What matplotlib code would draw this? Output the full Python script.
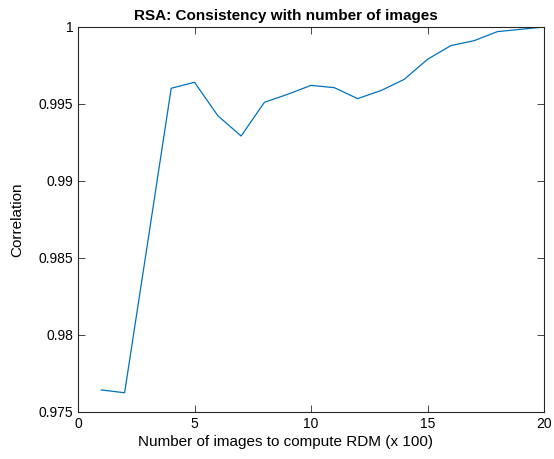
import matplotlib.pyplot as plt
from matplotlib.ticker import FuncFormatter

# number of images (x 100) and RSA correlation
n_images = [1, 2, 3, 4, 5, 6, 7, 8, 9, 10, 11, 12, 13, 14, 15, 16, 17, 18, 19, 20]
correlation = [0.97643, 0.97625, 0.98610, 0.99602, 0.99641, 0.99424, 0.99292,
               0.99511, 0.99563, 0.99621, 0.99606, 0.99535, 0.99587, 0.99660,
               0.99790, 0.99879, 0.99911, 0.99970, 0.99985, 1.00000]

plt.rcParams['font.family'] = ['Liberation Sans', 'DejaVu Sans']

fig = plt.figure(figsize=(5.54, 4.59), dpi=100)
ax = fig.add_axes([0.1408, 0.1024, 0.8412, 0.8388])

ax.plot(n_images, correlation, color='#0072BD', linewidth=0.9)

ax.set_xlim(0, 20)
ax.set_ylim(0.975, 1.0)
ax.set_xticks([0, 5, 10, 15, 20])
ax.set_yticks([0.975, 0.98, 0.985, 0.99, 0.995, 1.0])
ax.yaxis.set_major_formatter(FuncFormatter(lambda v, p: '{:g}'.format(round(v, 4))))

ax.tick_params(direction='in', top=True, right=True, length=5, width=0.6,
               labelsize=10, colors='#262626', labelcolor='black')
for s in ax.spines.values():
    s.set_linewidth(0.8)
    s.set_color('#262626')

# title and xlabel sit a bit left of the axes centre in the original
ax.set_title('RSA: Consistency with number of images', fontsize=11, fontweight='bold', pad=5, x=0.446)
ax.set_xlabel('Number of images to compute RDM (x 100)', fontsize=11, labelpad=3)
ax.xaxis.label.set_x(0.446)
ax.set_ylabel('Correlation', fontsize=11, labelpad=10)

fig.savefig('out.png', dpi=100)
